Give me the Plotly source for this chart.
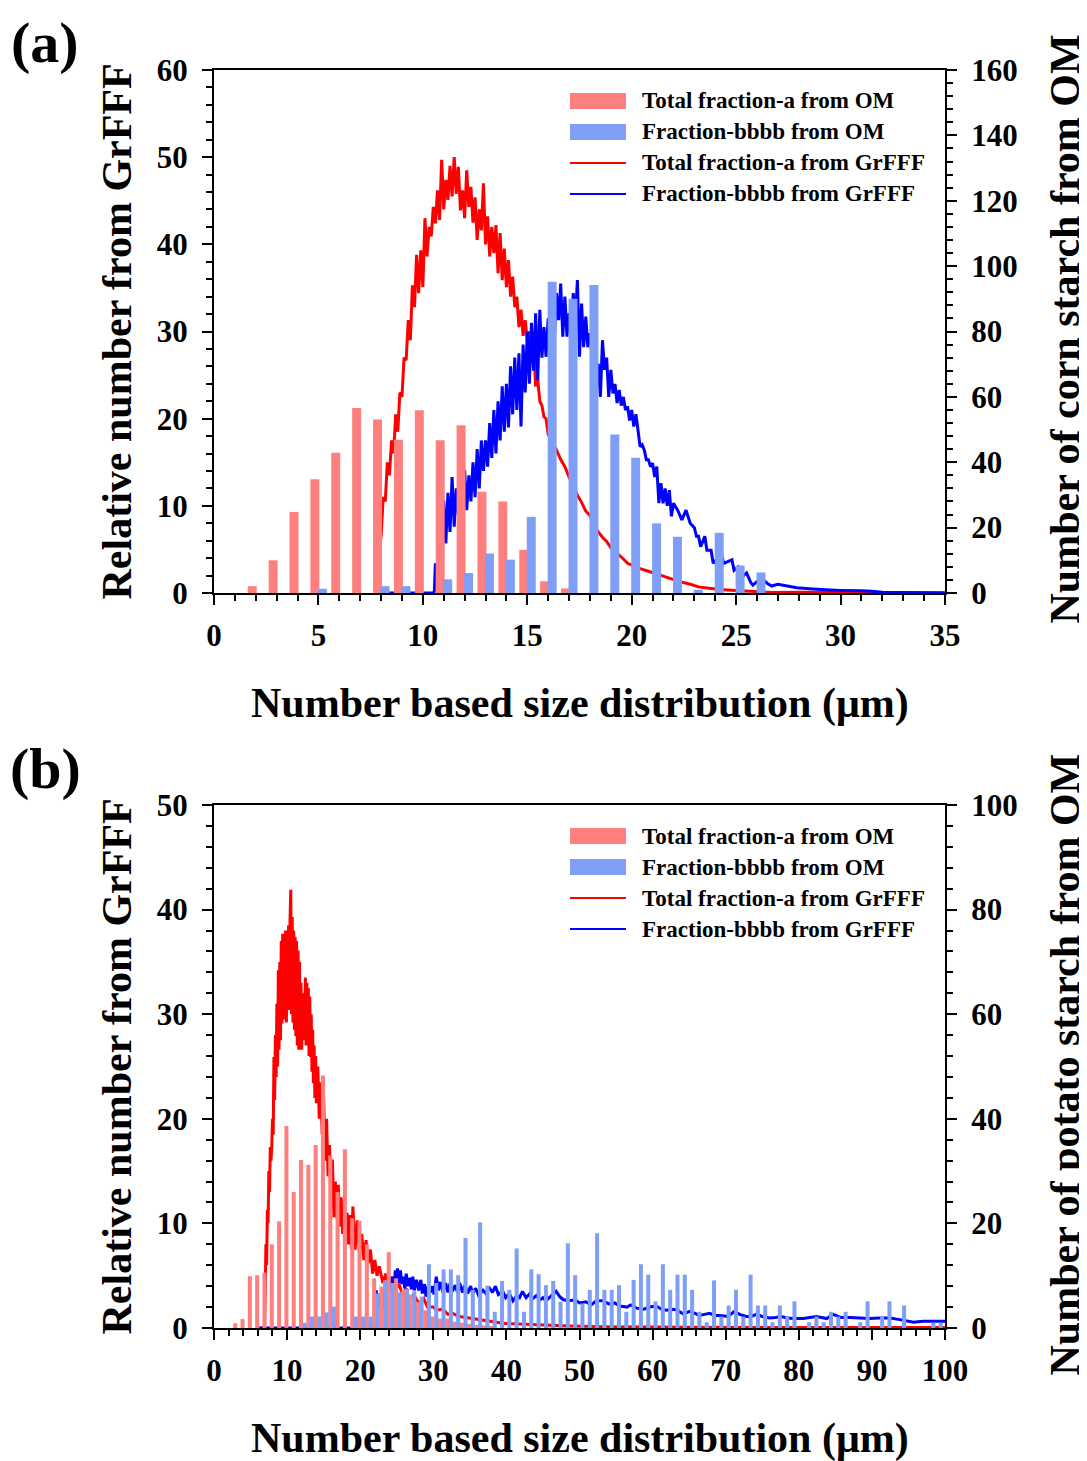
import plotly.graph_objects as go

# ---------------- DATA ----------------
# Panel (a): corn starch
a_bins = list(range(2, 27))
a_red_bars = [2.1, 10.0, 24.8, 34.8, 42.9, 56.6, 53.1, 46.9, 55.9, 46.7, 51.3, 31.0, 28.0, 13.2,
              3.6, 1.4, 0, 0, 0, 0, 0, 0, 0, 0, 0]
a_blue_bars = [0, 0, 0, 1.3, 0, 0, 2.1, 2.1, 0, 4.2, 6.1, 12.1, 10.2, 23.3,
               95.2, 90.0, 94.2, 48.5, 41.4, 21.3, 17.2, 1.0, 18.4, 8.4, 6.3]

a_red_x = [7.7, 7.8, 7.9, 8.0, 8.1, 8.2, 8.3, 8.4, 8.5, 8.6, 8.7, 8.8, 8.9, 9.0, 9.1, 9.2, 9.3, 9.4,
           9.5, 9.6, 9.7, 9.8, 9.9, 10.0, 10.1, 10.2, 10.3, 10.4, 10.5, 10.6, 10.7, 10.8, 10.9, 11.0,
           11.1, 11.2, 11.3, 11.4, 11.5, 11.6, 11.7, 11.8, 11.9, 12.0, 12.1, 12.2, 12.3, 12.4, 12.5,
           12.6, 12.7, 12.8, 12.9, 13.0, 13.1, 13.2, 13.3, 13.4, 13.5, 13.6, 13.7, 13.8, 13.9, 14.0,
           14.1, 14.2, 14.3, 14.4, 14.5, 14.6, 14.7, 14.8, 14.9, 15.0, 15.1, 15.2, 15.3, 15.4, 15.5,
           15.6, 15.7, 15.8, 15.9, 16.0, 16.2, 16.4, 16.6, 16.8, 17.0, 17.2, 17.4, 17.6, 17.8, 18.0,
           18.2, 18.4, 18.6, 18.8, 19.0, 19.2, 19.4, 19.6, 19.8, 20.0, 20.2, 20.4, 20.8, 21.3, 21.8,
           22.3, 22.8, 23.2, 23.7, 24.2, 25.2, 26.0, 26.7, 28.0, 30.0, 32.0, 35.0]
a_red_y = [0, 0.3, 5.0, 6.5, 11.0, 10.5, 15.0, 13.5, 17.5, 16.0, 20.5, 18.5, 23.0, 22.5, 27.0, 26.7,
           31.3, 29.0, 35.3, 32.8, 38.8, 34.4, 39.3, 35.1, 43.0, 38.6, 42.0, 40.9, 44.3, 42.4, 46.2,
           42.8, 49.7, 44.0, 47.4, 45.1, 49.0, 45.5, 50.0, 45.8, 48.9, 43.9, 46.2, 43.0, 48.5, 44.3,
           46.6, 42.5, 45.4, 40.5, 44.0, 41.6, 47.0, 40.0, 43.2, 38.6, 42.0, 39.0, 42.2, 36.7, 41.3,
           35.9, 39.5, 35.1, 38.2, 34.0, 36.3, 32.8, 34.0, 30.5, 32.5, 29.5, 31.3, 29.0, 30.0, 28.3,
           28.8, 23.7, 24.5, 22.0, 21.5, 20.2, 20.0, 18.2, 17.3, 16.4, 15.3, 14.5, 13.3, 12.4, 11.2,
           10.4, 9.4, 8.9, 7.8, 7.0, 6.4, 5.9, 5.2, 4.8, 4.4, 3.9, 3.4, 3.2, 3.0, 2.8, 2.5, 2.1, 1.7,
           1.3, 1.0, 0.7, 0.55, 0.4, 0.27, 0.15, 0.06, 0.1, 0.08, 0.05, 0.03]

a_blue_x = [7.7, 10.5, 10.55, 10.6, 10.7, 10.8, 10.9, 11.0, 11.1, 11.2, 11.3, 11.4, 11.5, 11.6, 11.7,
            11.8, 11.9, 12.0, 12.1, 12.2, 12.3, 12.4, 12.5, 12.6, 12.7, 12.8, 12.9, 13.0, 13.1, 13.2,
            13.3, 13.4, 13.5, 13.6, 13.7, 13.8, 13.9, 14.0, 14.1, 14.2, 14.3, 14.4, 14.5, 14.6, 14.7,
            14.8, 14.9, 15.0, 15.1, 15.2, 15.3, 15.4, 15.5, 15.6, 15.7, 15.8, 15.9, 16.0, 16.1, 16.2,
            16.3, 16.4, 16.5, 16.6, 16.7, 16.8, 16.9, 17.0, 17.1, 17.2, 17.3, 17.4, 17.5, 17.6, 17.7,
            17.8, 17.9, 18.0, 18.1, 18.2, 18.3, 18.4, 18.5, 18.6, 18.7, 18.8, 18.9, 19.0, 19.1, 19.2,
            19.3, 19.4, 19.5, 19.6, 19.7, 19.8, 19.9, 20.0, 20.1, 20.2, 20.3, 20.4, 20.5, 20.6, 20.7,
            20.8, 20.9, 21.0, 21.1, 21.2, 21.3, 21.4, 21.5, 21.6, 21.7, 21.8, 21.9, 22.0, 22.2, 22.4,
            22.6, 22.8, 23.0, 23.1, 23.2, 23.3, 23.5, 23.6, 23.8, 23.9, 24.1, 24.3, 24.4, 24.6, 24.8,
            24.9, 25.1, 25.3, 25.5, 25.7, 25.8, 26.0, 26.3, 26.5, 26.7, 27.0, 27.5, 27.9, 28.5, 29.0,
            29.5, 30.0, 30.5, 31.0, 31.5, 32.0, 33.0, 35.0]
a_blue_y = [0, 0, 0.2, 3.4, 1.5, 6.0, 4.5, 10.6, 5.7, 11.5, 7.0, 13.3, 7.6, 12.0, 9.0, 13.5, 8.4,
            14.1, 9.5, 13.5, 10.5, 15.0, 11.0, 16.5, 12.0, 17.5, 14.0, 17.5, 14.5, 19.5, 15.5, 21.0,
            16.0, 22.0, 17.5, 23.7, 18.5, 24.0, 19.0, 26.0, 20.5, 27.0, 21.0, 27.5, 19.1, 28.5, 23.0,
            30.0, 24.0, 31.0, 25.5, 32.1, 24.4, 32.5, 27.0, 30.5, 27.1, 31.5, 28.6, 32.1, 29.4, 34.4,
            31.3, 35.5, 29.4, 34.0, 29.4, 32.1, 29.0, 34.4, 31.3, 35.9, 27.1, 33.2, 28.2, 31.7, 28.2,
            29.8, 27.9, 29.0, 24.0, 26.3, 22.5, 29.0, 25.6, 27.0, 22.5, 25.6, 22.9, 24.0, 21.8, 23.3,
            21.5, 22.5, 21.0, 21.4, 19.8, 21.0, 19.1, 20.5, 18.7, 16.8, 17.0, 16.4, 15.3, 15.3, 14.5,
            14.9, 13.3, 14.5, 10.3, 12.6, 10.3, 12.0, 10.0, 11.8, 8.8, 10.3, 9.5, 8.4, 9.5, 8.0, 7.5,
            6.5, 6.5, 5.3, 6.5, 4.9, 4.9, 3.4, 4.0, 4.5, 3.4, 3.6, 3.8, 2.6, 3.0, 1.9, 2.3, 1.2, 0.9,
            1.3, 1.5, 1.1, 0.8, 1.0, 0.8, 0.6, 0.5, 0.4, 0.35, 0.3, 0.3, 0.25, 0.2, 0.1, 0.05, 0.0]

# Panel (b): potato starch
b_bins = list(range(3, 100))
b_red_bars = [0.9, 1.7, 9.9, 10.1, 10.6, 16.0, 20.4, 38.6, 26.0, 32.1, 31.2, 35.0, 48.3, 33.0,
              26.0, 34.2, 21.0, 20.5, 16.0, 9.5, 7.9, 14.5, 9.5, 7.3, 6.3, 5.0, 3.4, 2.2, 1.8, 1.8,
              1.2, 1.0, 0.8, 0.6, 0.5, 0.4] + [0] * 61
b_blue_bars = [0] * 9 + [1.0, 2.2, 2.2, 3.0, 4.1, 0, 0, 2.2, 2.2, 2.2, 6.6, 9.1, 8.6, 6.8, 7.5,
               7.0, 6.0, 12.2, 8.6, 11.2, 11.2, 10.1, 17.2, 7.3, 20.2, 8.1, 3.1, 9.0, 7.3, 15.2,
               3.1, 11.2, 10.3, 8.2, 9.0, 5.0, 16.2, 10.1, 4.7, 7.3, 18.1, 7.3, 7.3, 8.2, 3.1, 9.2,
               12.2, 10.2, 5.1, 12.2, 7.3, 10.2, 10.2, 7.3, 3.1, 1.1, 9.1, 2.2, 4.3, 7.3, 2.2, 10.2,
               4.3, 4.3, 1.1, 4.3, 2.2, 5.1, 0, 1.1, 2.2, 1.1, 3.1, 2.2, 3.1, 0, 1.1, 5.1, 0, 2.2,
               5.1, 0, 4.3, 0, 0, 0, 1.0, 1.0]

b_red_x = [6.2, 6.9, 7.0, 7.1, 7.2, 7.3, 7.4, 7.5, 7.6, 7.7, 7.8, 7.9, 8.0, 8.1, 8.2, 8.3, 8.4, 8.5,
           8.6, 8.7, 8.8, 8.9, 9.0, 9.1, 9.2, 9.3, 9.4, 9.5, 9.6, 9.7, 9.8, 9.9, 10.0, 10.1, 10.2,
           10.3, 10.4, 10.5, 10.6, 10.7, 10.8, 10.9, 11.0, 11.1, 11.2, 11.3, 11.4, 11.5, 11.6, 11.7,
           11.8, 11.9, 12.0, 12.1, 12.2, 12.3, 12.4, 12.5, 12.6, 12.7, 12.8, 12.9, 13.0, 13.1, 13.2,
           13.3, 13.4, 13.5, 13.6, 13.7, 13.8, 13.9, 14.0, 14.2, 14.4, 14.6, 14.8, 15.0, 15.2, 15.4,
           15.6, 15.8, 16.0, 16.2, 16.4, 16.6, 16.8, 17.0, 17.2, 17.4, 17.6, 17.8, 18.0, 18.2, 18.4,
           18.6, 18.8, 19.0, 19.3, 19.6, 19.9, 20.2, 20.5, 20.8, 21.1, 21.4, 21.7, 22.0, 22.3, 22.6,
           23.1, 23.5, 23.9, 24.4, 24.8, 25.3, 25.8, 26.3, 26.7, 27.3, 28.1, 28.7, 29.2, 30.0, 30.4,
           31.3, 32.0, 32.6, 33.6, 34.9, 36.0, 37.2, 38.5, 39.5, 41.0, 44.1, 46.0, 48.6, 53.2, 57.8,
           65.0, 80.0, 100.0]
b_red_y = [0, 0, 3.0, 8.0, 6.0, 11.3, 10.0, 15.0, 13.0, 17.3, 16.0, 17.3, 20.0, 18.5, 25.9, 21.8,
           28.0, 24.0, 31.0, 25.0, 34.2, 26.6, 35.0, 27.5, 37.0, 29.1, 37.7, 29.5, 36.5, 30.0, 38.0,
           29.2, 37.0, 31.0, 38.5, 30.4, 39.0, 41.9, 30.0, 39.3, 29.2, 38.0, 28.5, 37.4, 27.9, 37.0,
           27.0, 36.1, 26.6, 35.0, 27.0, 33.0, 26.6, 31.7, 27.5, 32.0, 28.0, 33.5, 27.0, 33.0, 28.0,
           32.5, 26.0, 31.7, 25.9, 30.0, 24.5, 28.5, 23.4, 27.0, 22.0, 26.0, 21.5, 25.0, 20.0, 23.5,
           18.5, 22.0, 16.0, 20.0, 14.5, 17.5, 12.0, 16.1, 10.6, 14.0, 10.5, 13.7, 9.7, 12.5, 9.0,
           11.3, 8.7, 11.0, 8.0, 10.8, 7.5, 11.6, 7.5, 10.3, 7.1, 9.0, 6.5, 8.4, 6.2, 7.5, 5.2, 6.5,
           5.0, 5.9, 4.3, 5.2, 4.0, 4.9, 3.6, 4.2, 3.2, 3.8, 2.7, 3.2, 2.3, 2.8, 2.0, 2.0, 1.7, 1.8,
           1.3, 1.4, 1.1, 0.95, 0.8, 0.7, 0.5, 0.45, 0.4, 0.3, 0.25, 0.2, 0.13, 0.08, 0.06, 0.05,
           0.05]

b_blue_x = [6.2, 22.0, 22.1, 22.2, 22.3, 22.4, 22.5, 22.6, 22.8, 23.0, 23.2, 23.5, 23.7, 23.9, 24.1,
            24.4, 24.6, 24.8, 24.9, 25.1, 25.3, 25.5, 25.7, 25.9, 26.1, 26.3, 26.5, 26.8, 27.0, 27.2,
            27.4, 27.7, 28.0, 28.3, 28.5, 28.8, 29.0, 29.3, 29.6, 29.9, 30.1, 30.4, 30.7, 31.0, 31.3,
            31.7, 32.0, 32.3, 32.6, 33.0, 33.3, 33.6, 34.0, 34.3, 34.7, 35.1, 35.4, 35.8, 36.2, 36.8,
            37.2, 37.6, 38.1, 38.5, 38.9, 39.5, 39.9, 40.4, 40.9, 41.4, 41.8, 42.2, 42.7, 43.2, 43.6,
            44.1, 44.6, 45.0, 45.4, 46.0, 46.8, 47.3, 47.8, 48.6, 49.4, 50.0, 50.9, 51.6, 52.3, 53.2,
            54.0, 54.8, 55.5, 56.5, 57.0, 57.8, 58.8, 59.6, 60.5, 61.2, 61.9, 62.6, 63.2, 64.2, 65.1,
            65.8, 66.4, 67.1, 67.8, 68.5, 69.2, 70.3, 71.2, 71.9, 72.8, 73.5, 74.2, 75.0, 76.0, 76.8,
            77.6, 78.4, 79.2, 80.6, 81.5, 82.4, 83.1, 83.8, 84.7, 85.8, 87.0, 88.4, 89.7, 91.0, 92.5,
            93.8, 94.8, 95.7, 96.3, 97.0, 98.4, 100.0]
b_blue_y = [0, 0, 1.5, 3.6, 1.4, 3.3, 2.0, 3.0, 2.0, 3.3, 1.8, 3.6, 2.2, 4.2, 3.5, 4.9, 3.6, 5.5,
            4.0, 5.7, 4.3, 5.5, 4.2, 4.9, 3.8, 5.2, 4.0, 4.8, 3.7, 4.9, 3.6, 4.6, 3.6, 4.6, 3.3, 4.2,
            3.0, 4.0, 3.4, 4.0, 3.2, 4.9, 3.6, 4.4, 3.4, 4.3, 3.4, 4.3, 3.5, 4.1, 3.4, 4.3, 3.4, 4.1,
            3.3, 4.0, 3.3, 3.8, 3.1, 3.6, 3.3, 3.9, 3.4, 4.0, 3.2, 3.5, 2.9, 3.3, 2.6, 3.1, 2.9, 3.5,
            2.9, 3.3, 2.8, 3.1, 2.7, 2.9, 2.6, 3.0, 3.5, 3.0, 2.7, 2.6, 2.7, 2.4, 2.5, 2.2, 2.6, 2.6,
            2.3, 2.4, 2.1, 2.0, 2.2, 1.9, 1.8, 2.0, 2.1, 1.8, 1.7, 1.8, 1.75, 1.35, 1.6, 1.4, 1.2,
            1.3, 1.4, 1.2, 1.2, 1.1, 1.6, 1.3, 1.1, 1.1, 1.3, 1.1, 0.95, 1.0, 1.1, 0.95, 0.9, 0.9,
            1.0, 1.1, 1.0, 0.9, 1.3, 1.0, 1.0, 0.95, 0.9, 0.95, 0.95, 0.8, 0.7, 0.55, 0.6, 0.65,
            0.65, 0.65]

legend_names = ["Total fraction-a from OM", "Fraction-bbbb from OM",
                "Total fraction-a from GrFFF", "Fraction-bbbb from GrFFF"]
y_title = "Relative number from GrFFF"
x_title = "Number based size distribution (\u03bcm)"
a_right_title = "Number of corn starch from OM"
b_right_title = "Number of potato starch from OM"

# ---------------- STYLE ----------------
PAGE_W, PAGE_H = 1087, 1461
OFF = 8                      # default body margin of the page
W, H = PAGE_W - OFF, PAGE_H - OFF
FONT = "Liberation Serif"
RED_BAR = "#FF7F7F"
BLUE_BAR = "#7F9FF7"
RED = "#FF0000"
BLUE = "#0000FF"
X0, X1 = 214, 945
A_TOP, A_BOT = 70, 593
B_TOP, B_BOT = 805, 1328


def px(x):
    return (x - OFF) / W


def py(y):
    return 1 - (y - OFF) / H


tickfont = dict(family=FONT, size=31, color="black", weight="bold")

fig = go.Figure()

# panel (a)
fig.add_trace(go.Bar(x=a_bins, y=a_red_bars, width=0.43, offset=-0.385, marker_color=RED_BAR,
                     marker_line_width=0, name=legend_names[0], xaxis="x", yaxis="y2"))
fig.add_trace(go.Bar(x=a_bins, y=a_blue_bars, width=0.43, offset=-0.025, marker_color=BLUE_BAR,
                     marker_line_width=0, name=legend_names[1], xaxis="x", yaxis="y2"))
fig.add_trace(go.Scatter(x=a_red_x, y=a_red_y, mode="lines", line=dict(color=RED, width=3),
                         name=legend_names[2], xaxis="x", yaxis="y"))
fig.add_trace(go.Scatter(x=a_blue_x, y=a_blue_y, mode="lines", line=dict(color=BLUE, width=3),
                         name=legend_names[3], xaxis="x", yaxis="y"))

# panel (b)
fig.add_trace(go.Bar(x=b_bins, y=b_red_bars, width=0.55, offset=-0.37, marker_color=RED_BAR,
                     marker_line_width=0, name=legend_names[0], xaxis="x2", yaxis="y4"))
fig.add_trace(go.Bar(x=b_bins, y=b_blue_bars, width=0.55, offset=0.13, marker_color=BLUE_BAR,
                     marker_line_width=0, name=legend_names[1], xaxis="x2", yaxis="y4"))
fig.add_trace(go.Scatter(x=b_red_x, y=b_red_y, mode="lines", line=dict(color=RED, width=3),
                         name=legend_names[2], xaxis="x2", yaxis="y3"))
fig.add_trace(go.Scatter(x=b_blue_x, y=b_blue_y, mode="lines", line=dict(color=BLUE, width=3),
                         name=legend_names[3], xaxis="x2", yaxis="y3"))


def xaxis(rng, dtick, mdtick, anchor):
    return dict(domain=[px(X0), px(X1)], range=rng, anchor=anchor, showline=True, linecolor="black",
                linewidth=2, mirror=True, ticks="outside", ticklen=10, tickwidth=2, tickcolor="black",
                dtick=dtick, tick0=0, showgrid=False, zeroline=False, tickfont=tickfont,
                ticklabelstandoff=4, automargin=False,
                minor=dict(ticks="outside", ticklen=6, tickwidth=1.5, tickcolor="black", dtick=mdtick,
                           showgrid=False))


def yaxis(rng, dtick, mdtick, anchor, dom, side="left", overlay=None):
    d = dict(domain=dom, range=rng, anchor=anchor, side=side, showline=True, linecolor="black",
             linewidth=2, ticks="outside", ticklen=10, tickwidth=2, tickcolor="black", dtick=dtick,
             tick0=0, showgrid=False, zeroline=False, tickfont=tickfont, ticklabelstandoff=8,
             automargin=False,
             minor=dict(ticks="outside", ticklen=6, tickwidth=1.5, tickcolor="black", dtick=mdtick,
                        showgrid=False))
    if overlay:
        d["overlaying"] = overlay
    return d


a_dom = [py(A_BOT), py(A_TOP)]
b_dom = [py(B_BOT), py(B_TOP)]

fig.update_layout(
    width=W, height=H, autosize=False, margin=dict(l=0, r=0, t=0, b=0, pad=0),
    paper_bgcolor="white", plot_bgcolor="white", barmode="overlay", showlegend=False,
    xaxis=xaxis([0, 35], 5, 1, "y"),
    yaxis=yaxis([0, 60], 10, 2, "x", a_dom),
    yaxis2=yaxis([0, 160], 20, 4, "x", a_dom, side="right", overlay="y"),
    xaxis2=xaxis([0, 100], 10, 2, "y3"),
    yaxis3=yaxis([0, 50], 10, 2, "x2", b_dom),
    yaxis4=yaxis([0, 100], 20, 4, "x2", b_dom, side="right", overlay="y3"),
)

# manual legends (wide swatches as in the reference)
shapes = []
annotations = []
leg_colors = [RED_BAR, BLUE_BAR, RED, BLUE]
for top in (101, 836):
    for i, name in enumerate(legend_names):
        yc = top + 31 * i
        if i < 2:
            shapes.append(dict(type="rect", xref="paper", yref="paper", x0=px(570), x1=px(626),
                               y0=py(yc + 8), y1=py(yc - 8), fillcolor=leg_colors[i],
                               line=dict(width=0)))
        else:
            shapes.append(dict(type="line", xref="paper", yref="paper", x0=px(570), x1=px(626),
                               y0=py(yc), y1=py(yc), line=dict(color=leg_colors[i], width=2)))
        annotations.append(dict(text=name, xref="paper", yref="paper", x=px(640), y=py(yc),
                                xanchor="left", yanchor="middle", showarrow=False,
                                font=dict(family=FONT, size=23, color="black", weight="bold")))

title_font = dict(family=FONT, size=42, color="black", weight="bold")
for (ybot, ytop, rtitle, label, label_y) in ((A_BOT, A_TOP, a_right_title, "(a)", 42),
                                              (B_BOT, B_TOP, b_right_title, "(b)", 768)):
    ymid = (ybot + ytop) / 2
    annotations.append(dict(text=y_title, xref="paper", yref="paper", x=px(116), y=py(ymid),
                            textangle=-90, showarrow=False, xanchor="center", yanchor="middle",
                            font=title_font))
    annotations.append(dict(text=rtitle, xref="paper", yref="paper", x=px(1064), y=py(ymid - 2),
                            textangle=-90, showarrow=False, xanchor="center", yanchor="middle",
                            font=title_font))
    annotations.append(dict(text=x_title, xref="paper", yref="paper", x=px(580), y=py(ybot + 110),
                            showarrow=False, xanchor="center", yanchor="middle", font=title_font))
    annotations.append(dict(text=label, xref="paper", yref="paper", x=px(45), y=py(label_y),
                            showarrow=False, xanchor="center", yanchor="middle",
                            font=dict(family=FONT, size=58, color="black", weight="bold")))

fig.update_layout(shapes=shapes, annotations=annotations)

fig.write_html("out.html", config={"displayModeBar": False})
